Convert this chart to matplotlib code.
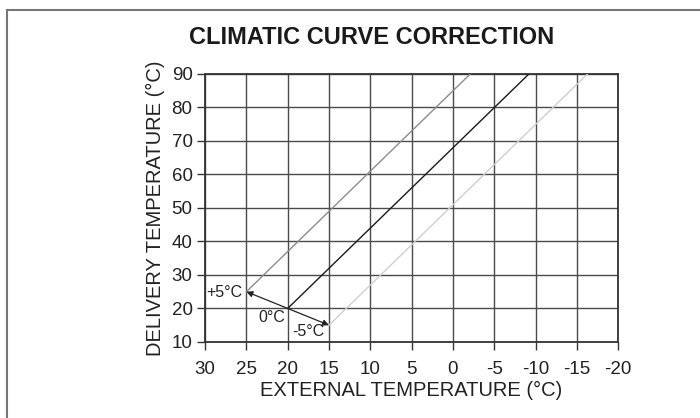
import numpy as np
import matplotlib
matplotlib.use("Agg")
import matplotlib.pyplot as plt
from matplotlib.lines import Line2D

# chart data
x_ticks = [30, 25, 20, 15, 10, 5, 0, -5, -10, -15, -20]
y_ticks = [10, 20, 30, 40, 50, 60, 70, 80, 90]
corrections = ["+5°C", "0°C", "-5°C"]
start_x = [25, 20, 15]
start_y = [25, 20, 15]
end_x = [-2.1, -9.2, -16.3]
end_y = [90, 90, 90]
line_colors = ["#8c8c8c", "#1a1a1a", "#cfcfcf"]
label_x = [25.5, 20.3, 15.5]
label_y = [24.8, 17.4, 13.0]

plt.rcParams['font.family'] = ['Liberation Sans', 'DejaVu Sans']

fig = plt.figure(figsize=(7.0, 4.18), dpi=100)
ax = fig.add_axes([0.293, 0.182, 0.590, 0.641])

for i in range(len(corrections)):
    ax.plot([start_x[i], end_x[i]], [start_y[i], end_y[i]],
            color=line_colors[i], lw=1.0, zorder=3)
    ax.text(label_x[i], label_y[i], corrections[i], ha='right', va='center',
            fontsize=11.5, color='#222222', zorder=4)

# arrows from the 0°C point to the shifted starting points
for i in [0, 2]:
    ax.annotate("", xy=(start_x[i], start_y[i]), xytext=(start_x[1], start_y[1]),
                arrowprops=dict(arrowstyle="-|>", color="#222222", lw=0.9,
                                mutation_scale=9, shrinkA=0, shrinkB=0),
                zorder=4)

ax.set_xlim(30, -20)
ax.set_ylim(10, 90)
ax.set_xticks(x_ticks)
ax.set_yticks(y_ticks)
ax.set_xticklabels([str(v) for v in x_ticks])
ax.grid(True, color="#4a4a4a", lw=1.0)
ax.set_axisbelow(True)
for s in ax.spines.values():
    s.set_color("#333333")
    s.set_linewidth(1.3)
ax.tick_params(length=6, width=1.0, color="#333333", labelsize=13.5,
               labelcolor="#222222")
ax.tick_params(axis='x', pad=8)
ax.tick_params(axis='y', pad=3)

ax.set_xlabel("EXTERNAL TEMPERATURE (°C)", fontsize=14.5, color="#222222", labelpad=2)
ax.set_ylabel("DELIVERY TEMPERATURE (°C)", fontsize=14.5, color="#222222", labelpad=5)

fig.text(0.531, 0.91, "CLIMATIC CURVE CORRECTION", ha='center', va='center',
         fontsize=17, fontweight='bold', color="#1a1a1a")

# partial frame (top and left edges)
fig.add_artist(Line2D([0.0107, 1.0], [0.977, 0.977], color="#777777", lw=1.5))
fig.add_artist(Line2D([0.0107, 0.0107], [0.0, 0.977], color="#777777", lw=1.5))

fig.savefig("out.png", dpi=100)
